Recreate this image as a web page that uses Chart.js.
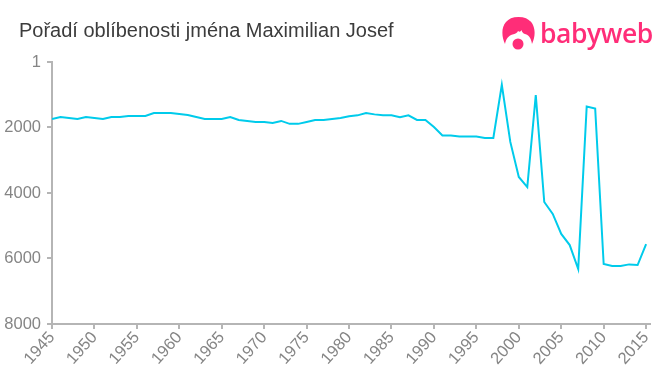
<!DOCTYPE html>
<html lang="cs">
<head>
<meta charset="utf-8">
<title>Pořadí oblíbenosti jména Maximilian Josef</title>
<script src="https://cdn.jsdelivr.net/npm/chart.js@4/dist/chart.umd.min.js"></script>
<style>
html,body{margin:0;padding:0;background:#fff;width:660px;height:375px;overflow:hidden}
#wrap{position:relative;width:660px;height:375px}
#title{position:absolute;left:19px;top:19px;font:20px "Liberation Sans",Arial,sans-serif;color:#3c3c3c;white-space:nowrap}
#brand{position:absolute;left:540px;top:15px;font:600 26.5px "Open Sans",sans-serif;color:#ff2d78;letter-spacing:-.45px;white-space:nowrap}
#mark{position:absolute;left:502px;top:17px}
</style>
</head>
<body>
<div id="wrap">
<canvas id="c" width="660" height="375"></canvas>
<div id="title">Pořadí oblíbenosti jména Maximilian Josef</div>
<svg id="mark" width="33" height="34" viewBox="0 0 33 34">
<path d="M3 27 C-2 17 -1 0 16.5 0 C34 0 35 17 30 27 C29 21 27 18 23 17 C21 16.5 20 15 19.5 13 C18.5 15 17.5 15 16 14 C15.5 16 13 17 10.5 17.5 C6.5 18.5 4 22 3 27Z" fill="#ff2d78"/>
<circle cx="16" cy="27" r="5.5" fill="#ff2d78"/>
</svg>
<div id="brand">babyweb</div>
</div>
<script>
const years = [];
for (let y = 1945; y <= 2015; y++) years.push(y);
const ranks = [1740,1680,1710,1740,1680,1710,1740,1680,1680,1650,1650,1650,1557,1557,1557,1590,1620,1680,1740,1740,1740,1680,1770,1800,1830,1830,1860,1800,1890,1890,1830,1770,1770,1740,1710,1660,1630,1557,1600,1630,1630,1690,1630,1770,1770,1985,2245,2245,2275,2275,2275,2320,2320,700,2440,3510,3820,1010,4275,4640,5250,5590,6320,1360,1420,6170,6230,6230,6180,6200,5560];
const rankTicks = [1,2000,4000,6000,8000];
const yearTicks = [1945,1950,1955,1960,1965,1970,1975,1980,1985,1990,1995,2000,2005,2010,2015];
const axisColor = '#b5b5b5';
const tickFontColor = '#858585';
new Chart(document.getElementById('c'), {
  type: 'line',
  data: { datasets: [{
    data: years.map((y,i)=>({x:y,y:ranks[i]})),
    borderColor: '#00cbeb', borderWidth: 2, pointRadius: 0, tension: 0, fill: false
  }]},
  options: {
    responsive: false, animation: false,
    layout: { padding: { top: 62, right: 10.5, left: 0, bottom: 0 } },
    plugins: { legend: {display:false}, title: {display:false}, tooltip:{enabled:false} },
    scales: {
      x: {
        type: 'linear', min: 1945, max: 2015.4,
        afterBuildTicks: s => { s.ticks = yearTicks.map(v=>({value:v})); },
        afterFit: s => { s.height = 51; },
        border: { color: axisColor, width: 2 },
        grid: { drawOnChartArea:false, color: axisColor, tickLength: 5, lineWidth: 2 },
        ticks: { autoSkip:false, minRotation:48, maxRotation:48, padding: -1, color: tickFontColor,
          font:{family:'"Liberation Sans",Arial,sans-serif',size:16.5}, callback: v => String(v) }
      },
      y: {
        reverse: true, min: 1, max: 8000,
        afterBuildTicks: s => { s.ticks = rankTicks.map(v=>({value:v})); },
        afterFit: s => { s.width = 52; },
        border: { color: axisColor, width: 2 },
        grid: { drawOnChartArea:false, color: axisColor, tickLength: 5, lineWidth: 2 },
        ticks: { padding: 6, color: tickFontColor,
          font:{family:'"Liberation Sans",Arial,sans-serif',size:16.5}, callback: v => String(v) }
      }
    }
  }
});
</script>
</body>
</html>
